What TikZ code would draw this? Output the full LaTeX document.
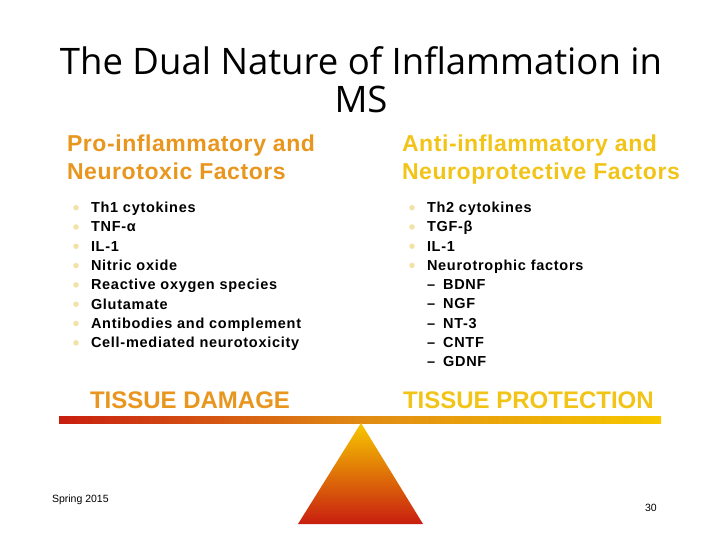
\documentclass[tikz,border=0pt]{standalone}
\usepackage{fontspec}
\setmainfont{Liberation Sans}
\newfontfamily\titlefont{Open Sans}
\usetikzlibrary{positioning}
\definecolor{damage}{HTML}{E8961E}
\definecolor{protect}{HTML}{F2C418}
\definecolor{barred}{HTML}{C81E10}
\definecolor{baryellow}{HTML}{F7C800}
\definecolor{barmid}{HTML}{E08A14}
\definecolor{dotpale}{HTML}{F2E2A6}
\tikzset{
  every node/.style={inner sep=0pt,outer sep=0pt},
  slidetitle/.style={font=\titlefont\fontsize{36.5}{36.5}\selectfont,anchor=base},
  colhead/.style={font=\bfseries\fontsize{23}{23}\selectfont\addfontfeature{LetterSpace=2.5},anchor=base west},
  item/.style={font=\bfseries\fontsize{14.5}{14.5}\selectfont\addfontfeature{LetterSpace=5},anchor=base west},
  bulletdot/.style={circle,fill=dotpale,minimum size=5.5pt},
  verdict/.style={font=\bfseries\fontsize{24}{24}\selectfont,anchor=base west},
  footer/.style={font=\fontsize{10.5}{10.5}\selectfont,anchor=base west}}
\begin{document}
\begin{tikzpicture}[x=1pt,y=-1pt]
\useasboundingbox[fill=white] (0,0) rectangle (720,540);
% title
\node[slidetitle] (title1) at (361,75) {The Dual Nature of Inflammation in};
\node[slidetitle] (title2) at (361,113) {MS};
% column headings
\node[colhead,damage] (prohead1) at (67,152) {Pro-inflammatory and};
\node[colhead,damage] (prohead2) at (67,180) {Neurotoxic Factors};
\node[colhead,protect] (antihead1) at (402,152) {Anti-inflammatory and};
\node[colhead,protect] (antihead2) at (402,180) {Neuroprotective Factors};
% left list
\foreach \lab [count=\i] in {Th1 cytokines,TNF-α,IL-1,Nitric oxide,
    Reactive oxygen species,Glutamate,Antibodies and complement,
    Cell-mediated neurotoxicity}{
  \node[item] (pro\i) at (91,{212.7+19.3*(\i-1)}) {\lab};
  \node[bulletdot] (prodot\i) at (76,{207.7+19.3*(\i-1)}) {};
}
% right list
\foreach \lab [count=\i] in {Th2 cytokines,TGF-β,IL-1,Neurotrophic factors}{
  \node[item] (anti\i) at (427,{212.7+19.25*(\i-1)}) {\lab};
  \node[bulletdot] (antidot\i) at (412,{207.7+19.25*(\i-1)}) {};
}
\foreach \lab [count=\i] in {BDNF,NGF,NT-3,CNTF,GDNF}{
  \node[item] (sub\i) at (427,{289.7+19.25*(\i-1)}) {--\hspace{8pt}\lab};
}
% outcome labels
\node[verdict,damage] (damage) at (90,408) {TISSUE DAMAGE};
\node[verdict,protect] (protection) at (403,408) {TISSUE PROTECTION};
% balance beam and pivot
\coordinate (beamL) at (59,416);
\coordinate (beamR) at (661,423);
\shade[left color=barred,right color=baryellow,middle color=barmid] (beamL) rectangle (beamR);
\coordinate (apex) at (361,423);
\coordinate (baseL) at (298,524);
\coordinate (baseR) at (423,524);
\shade[top color=baryellow,bottom color=barred] (apex) -- (baseR) -- (baseL) -- cycle;
% footer
\node[footer] (term) at (52,502) {Spring 2015};
\node[footer] (page) at (645,511) {30};
\end{tikzpicture}
\end{document}
